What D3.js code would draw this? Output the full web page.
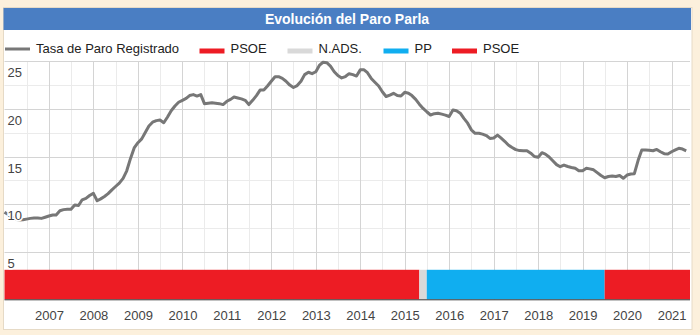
<!DOCTYPE html>
<html><head><meta charset="utf-8">
<script src="https://cdn.jsdelivr.net/npm/d3@7"></script>
<style>
body{margin:0;background:#fcf0dc;}
svg{display:block;font-family:"Liberation Sans",Arial,sans-serif;}
</style>
</head><body><svg id="c" width="700" height="335"></svg>
<script>
// ---------- DATA ----------
const chartTitle = "Evolución del Paro Parla";
const seriesName = "Tasa de Paro Registrado";
const firstMonth = "2006-01";
const paroValues = [
  9.15, 8.9, 8.6, 8.4, 8.33, 8.35, 8.42, 8.5, 8.55, 8.55, 8.5, 8.62,
  8.75, 8.85, 8.85, 9.3, 9.42, 9.45, 9.45, 9.9, 9.85, 10.45, 10.6, 10.9,
  11.13, 10.35, 10.55, 10.8, 11.1, 11.5, 11.85, 12.2, 12.7, 13.5, 14.8, 15.9,
  16.45, 16.85, 17.5, 18.2, 18.6, 18.77, 18.83, 18.55, 19.15, 19.8, 20.3, 20.7,
  20.9, 21.1, 21.4, 21.5, 21.35, 21.5, 20.55, 20.6, 20.65, 20.6, 20.55, 20.45,
  20.8, 21.0, 21.25, 21.15, 21.05, 20.9, 20.45, 20.9, 21.4, 21.98, 21.98, 22.4,
  22.9, 23.38, 23.38, 23.2, 22.9, 22.5, 22.25, 22.45, 22.9, 23.6, 23.85, 23.7,
  23.9, 24.6, 24.9, 24.85, 24.5, 23.9, 23.5, 23.25, 23.4, 23.7, 23.6, 23.45,
  24.1, 24.1, 23.8, 23.2, 22.8, 22.4, 21.8, 21.3, 21.45, 21.64, 21.4, 21.35,
  21.74, 21.65, 21.4, 21.0, 20.5, 20.05, 19.7, 19.36, 19.5, 19.54, 19.45, 19.35,
  19.2, 19.88, 19.8, 19.55, 19.0, 18.5, 17.8, 17.44, 17.44, 17.35, 17.2, 16.9,
  16.95, 17.25, 16.95, 16.6, 16.2, 15.95, 15.72, 15.62, 15.61, 15.61, 15.35, 15.0,
  14.92, 15.4, 15.25, 14.95, 14.55, 14.15, 13.93, 14.1, 13.95, 13.85, 13.76, 13.5,
  13.5, 13.76, 13.7, 13.6, 13.3, 13.0, 12.77, 12.9, 12.95, 12.9, 13.0, 12.71,
  13.05, 13.16, 13.2, 14.6, 15.68, 15.68, 15.66, 15.6, 15.74, 15.5, 15.3, 15.27,
  15.5, 15.7, 15.86, 15.78, 15.6
];
const partyNames  = ["PSOE", "N.ADS.", "PP", "PSOE"];
const partyStarts = ["2006-01", "2015-05", "2015-07", "2019-07"];
const partyEnds   = ["2015-05", "2015-07", "2019-07", "2021-06"];
const partyBand   = 3.1;           // height of government band in axis units
const yTickValues = [5, 10, 15, 20, 25];
const yearLabels  = [2007,2008,2009,2010,2011,2012,2013,2014,2015,2016,2017,2018,2019,2020,2021];
const xDomain     = ["2006-01", "2021-06"];

// ---------- STYLE ----------
const partyColors = {"PSOE":"#ed1c24","N.ADS.":"#d9d9d9","PP":"#10aef0"};
const lineColor = "#777777";

// ---------- BUILD ----------
const parseM = d3.utcParse("%Y-%m");
const start = parseM(firstMonth);
const series = paroValues.map((v,i)=>({date:d3.utcMonth.offset(start,i), value:v}));
const parties = partyNames.map((n,i)=>({name:n, start:parseM(partyStarts[i]), end:parseM(partyEnds[i])}));

const svg = d3.select("#c");
const L = 4.5, R = 690, T = 61.3, B = 299.3;

const x = d3.scaleUtc().domain(xDomain.map(parseM)).range([L, R]);
const y = d3.scaleLinear().domain([0, 25]).range([B, T]);

// panel
svg.append("rect").attr("x",3.5).attr("y",7.5).attr("width",688.5).attr("height",322)
  .attr("fill","#fff").attr("stroke","#e6dac6");
svg.append("rect").attr("x",3.5).attr("y",8).attr("width",687.5).attr("height",22)
  .attr("fill","#4a7ec3");
svg.append("text").attr("x",347).attr("y",23.5).attr("text-anchor","middle")
  .attr("fill","#fff").attr("font-weight","bold").attr("font-size",14).text(chartTitle);

// legend
const lg = svg.append("g").attr("font-size",13).attr("fill","#222");
lg.append("line").attr("x1",5).attr("x2",30).attr("y1",49).attr("y2",49)
  .attr("stroke",lineColor).attr("stroke-width",3);
lg.append("text").attr("x",36).attr("y",53).text(seriesName);
const legX = [199.5, 287.5, 383.5, 452];
partyNames.forEach((n,i)=>{
  lg.append("rect").attr("x",legX[i]).attr("y",48.5).attr("width",25).attr("height",5)
    .attr("fill",partyColors[n]);
  lg.append("text").attr("x",legX[i]+31).attr("y",53).text(n);
});

// grid
const grid = svg.append("g");
const halfYears = d3.utcMonth.every(6).range(x.domain()[0], x.domain()[1]);
grid.selectAll("line.vmin").data(halfYears.filter(d=>d.getUTCMonth()===6)).join("line")
  .attr("x1",d=>Math.round(x(d))+0.5).attr("x2",d=>Math.round(x(d))+0.5)
  .attr("y1",T).attr("y2",B).attr("stroke","#ebebeb");
grid.selectAll("line.hmin").data([7.5,12.5,17.5,22.5]).join("line")
  .attr("x1",L).attr("x2",R).attr("y1",d=>Math.round(y(d))+0.5).attr("y2",d=>Math.round(y(d))+0.5)
  .attr("stroke","#ebebeb");
const yearDates = d3.utcYear.range(x.domain()[0], x.domain()[1]).filter(d=>d>x.domain()[0]);
grid.selectAll("line.vmaj").data(yearDates).join("line")
  .attr("x1",d=>Math.round(x(d))+0.5).attr("x2",d=>Math.round(x(d))+0.5)
  .attr("y1",T).attr("y2",B).attr("stroke","#d4d4d4");
grid.selectAll("line.hmaj").data(yTickValues).join("line")
  .attr("x1",L).attr("x2",R).attr("y1",d=>Math.round(y(d))+0.5).attr("y2",d=>Math.round(y(d))+0.5)
  .attr("stroke","#d4d4d4");

// line
svg.append("path").datum(series)
  .attr("fill","none").attr("stroke",lineColor).attr("stroke-width",3)
  .attr("stroke-linejoin","round")
  .attr("d", d3.line().x(d=>x(d.date)).y(d=>y(d.value)));

// party band
svg.selectAll("rect.party").data(parties).join("rect")
  .attr("x",d=>x(d.start)).attr("width",d=>x(d.end)-x(d.start))
  .attr("y",y(partyBand)).attr("height",y(0)-y(partyBand))
  .attr("fill",d=>partyColors[d.name]);

// baseline
svg.append("line").attr("x1",L).attr("x2",R).attr("y1",B+0.5).attr("y2",B+0.5)
  .attr("stroke","#333");

// y labels (inside)
const yAxis = svg.append("g").attr("transform","translate(0,0)")
  .call(d3.axisRight(y).tickValues(yTickValues).tickSize(0).tickFormat(d3.format("d")));
yAxis.select(".domain").remove();
yAxis.selectAll("text").attr("x",7.5).attr("dy",null).attr("y",15.5)
  .attr("text-anchor","start").attr("font-family","Liberation Sans, Arial, sans-serif")
  .attr("font-size",13).attr("fill","#444")
  .attr("stroke","#fff").attr("stroke-width",3).attr("paint-order","stroke");

// x labels
const xAxis = svg.append("g").attr("transform",`translate(0,${B})`)
  .call(d3.axisBottom(x).tickValues(yearLabels.map(v=>new Date(Date.UTC(v,0,1))))
    .tickSize(0).tickFormat(d3.utcFormat("%Y")));
xAxis.select(".domain").remove();
xAxis.selectAll("text").attr("dy",null).attr("y",20.5)
  .attr("font-family","Liberation Sans, Arial, sans-serif")
  .attr("font-size",13).attr("fill","#444");
</script>
</body></html>
